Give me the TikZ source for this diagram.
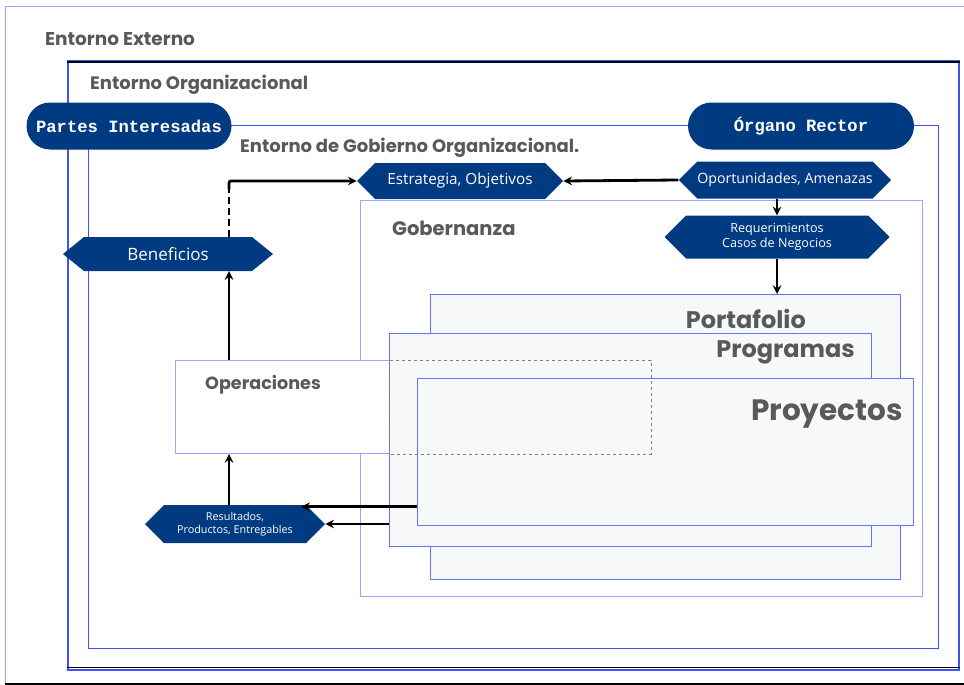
\documentclass[tikz,border=0pt]{standalone}
\usepackage{fontspec}
\setmainfont{Open Sans}
\newfontfamily\titlefont{Poppins}
\newfontfamily\pillfont{Liberation Mono}
\usetikzlibrary{shapes.symbols,shapes.misc,positioning,calc}

\definecolor{navy}{HTML}{003A80}
\definecolor{lineblue}{HTML}{9AA6FF}
\definecolor{darkline}{HTML}{4050FF}
\definecolor{graytext}{HTML}{595959}
\definecolor{boxfill}{HTML}{F7F9F9}

\tikzset{
  frame/.style={draw=lineblue, line width=1pt, inner sep=0pt, anchor=north west},
  title/.style={font=\titlefont\bfseries, text=graytext, inner sep=0pt},
  hexa/.style={signal, signal to=west and east, signal pointer angle=90, fill=navy, text=white, inner sep=0pt, align=center},
  pill/.style={rounded rectangle, fill=navy, text=white, inner sep=0pt, font=\pillfont\bfseries\fontsize{17.2}{18}\selectfont},
  flow/.style={->, line width=2.8pt},
}

\begin{document}
\begin{tikzpicture}[x=1pt,y=-1pt,>=stealth]
\useasboundingbox (0,0) rectangle (964,685);
\def\opx{229}
\def\reqx{777}

% entornos
\node[frame, minimum width=990, minimum height=677] (externo) at (5,6) {};
\draw[black, line width=1.2pt] (externo.south west) -- ++(990,0);
\node[title, anchor=west, font=\titlefont\bfseries\fontsize{18.5}{20}\selectfont] (externolbl) at (45,39) {Entorno Externo};

\node[frame, draw=darkline, line width=1.6pt, minimum width=891, minimum height=609] (organizacional) at (67,60) {};
\draw[black, line width=1.2pt] ([yshift=-2]organizacional.north west) -- ([yshift=-2]organizacional.north east);
\draw[black, line width=1.2pt] ([yshift=3]organizacional.south west) -- ([yshift=3]organizacional.south east);
\node[title, anchor=west, font=\titlefont\bfseries\fontsize{18}{20}\selectfont] (organizacionallbl) at (90,85) {Entorno Organizacional};

\node[frame, draw=darkline, line width=1.3pt, minimum width=850, minimum height=523] (gobierno) at (88,125) {};
\node[title, anchor=west, font=\titlefont\bfseries\fontsize{18}{20}\selectfont] (gobiernolbl) at (240,148) {Entorno de Gobierno Organizacional.};

% cajas
\node[frame, fill=white, minimum width=562, minimum height=396] (gobernanza) at (360,200) {};
\node[title, anchor=west, font=\titlefont\bfseries\fontsize{19.5}{21}\selectfont] (gobernanzalbl) at (392,228) {Gobernanza};

\node[frame, draw=darkline!80, fill=boxfill, minimum width=470, minimum height=285] (portafolio) at (430,294) {};
\node[title, anchor=east, font=\titlefont\bfseries\fontsize{24}{26}\selectfont] (portafoliolbl) at (806,319) {Portafolio};

\node[frame, fill=white, minimum width=475, minimum height=93] (operaciones) at (175,360) {};
\node[title, anchor=west, font=\titlefont\bfseries\fontsize{17.6}{19}\selectfont] (operacioneslbl) at (205,385) {Operaciones};

\node[frame, draw=darkline!80, fill=boxfill, minimum width=482, minimum height=213] (programas) at (389,333) {};
\node[title, anchor=east, font=\titlefont\bfseries\fontsize{24}{26}\selectfont] (programaslbl) at (855,352) {Programas};

\node[frame, draw=darkline!80, fill=boxfill, minimum width=496, minimum height=147] (proyectos) at (417,378) {};
\node[title, anchor=east, font=\titlefont\bfseries\fontsize{29.5}{31}\selectfont] (proyectoslbl) at (903,414) {Proyectos};

\draw[gray, dashed, line width=0.7pt] (programas.west |- operaciones.north) rectangle (operaciones.south east);

% nodos
\node[pill, minimum width=205, minimum height=47] (partes) at (129,126) {Partes Interesadas};
\node[pill, minimum width=226, minimum height=47] (organo) at (801,126) {Órgano Rector};

\node[hexa, minimum width=206, minimum height=36, font=\fontsize{15.3}{17}\selectfont] (estrategia) at (460,181) {Estrategia, Objetivos};
\node[hexa, minimum width=210, minimum height=37, font=\fontsize{14.2}{16}\selectfont] (oportunidades) at (785,180) {Oportunidades, Amenazas};
\node[hexa, minimum width=225, minimum height=43, font=\fontsize{12.6}{15}\selectfont] (requerimientos) at (777,237) {Requerimientos\\Casos de Negocios};
\node[hexa, signal pointer angle=78, minimum width=210, minimum height=34, font=\fontsize{17}{18}\selectfont] (beneficios) at (168,254) {Beneficios};
\node[hexa, minimum width=180, minimum height=38, font=\fontsize{10.8}{12.5}\selectfont] (resultados) at (235,524) {Resultados,\\Productos, Entregables};

% conectores
\draw[flow] (operaciones.north -| \opx,0) -- (beneficios.south -| \opx,0);
\draw[line width=2.8pt, dash pattern=on 7pt off 4pt] (beneficios.north -| \opx,0) -- ($(\opx,0 |- estrategia.west)+(0,8)$);
\draw[flow, rounded corners=2pt] ($(\opx,0 |- estrategia.west)+(0,8)$) -- (\opx,0 |- estrategia.west) -- (estrategia.west);
\draw[flow] (oportunidades.west) -- (estrategia.east);
\draw[flow] (oportunidades.south -| \reqx,0) -- (requerimientos.north -| \reqx,0);
\draw[flow] (requerimientos.south -| \reqx,0) -- (portafolio.north -| \reqx,0);
\draw[flow] ([yshift=-2]proyectos.west |- resultados.north east) -- ([yshift=-2,xshift=-5]resultados.north east);
\draw[flow] (programas.west |- resultados.east) -- (resultados.east);
\draw[flow] (resultados.north -| \opx,0) -- (operaciones.south -| \opx,0);
\end{tikzpicture}
\end{document}
